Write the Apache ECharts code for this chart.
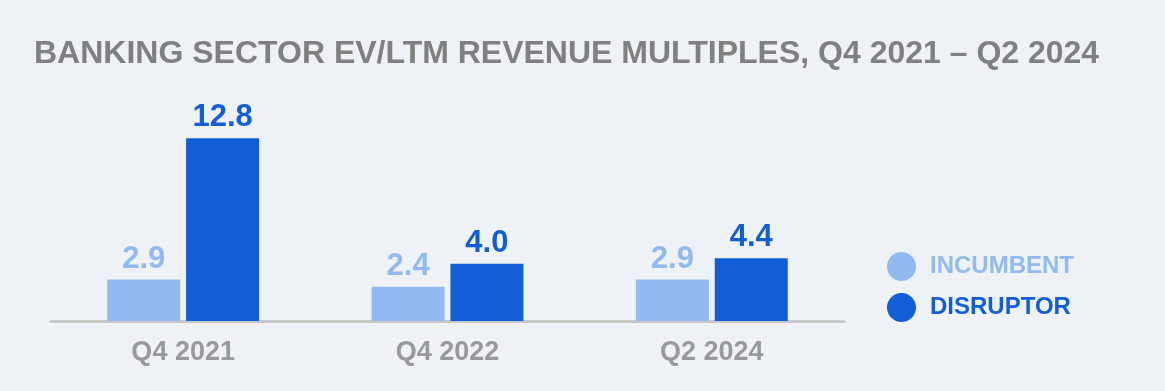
<!DOCTYPE html>
<html>
<head>
<meta charset="utf-8">
<script src="https://cdn.jsdelivr.net/npm/echarts@6/dist/echarts.min.js"></script>
<style>
html,body{margin:0;padding:0;background:#eef2f6;}
#chart{width:1165px;height:391px;}
</style>
</head>
<body>
<div id="chart"></div>
<script>
const titleText = 'BANKING SECTOR EV/LTM REVENUE MULTIPLES, Q4 2021 \u2013 Q2 2024';
const categories = ['Q4 2021', 'Q4 2022', 'Q2 2024'];
const seriesNames = ['INCUMBENT', 'DISRUPTOR'];
const incumbent = [2.9, 2.4, 2.9];
const disruptor = [12.8, 4.0, 4.4];

const FONT = '"Liberation Sans", Arial, Helvetica, sans-serif';
const lightBlue = '#92b9f0';
const darkBlue = '#125ed9';

const chart = echarts.init(document.getElementById('chart'), null, {renderer: 'canvas'});
chart.setOption({
  backgroundColor: '#eef2f6',
  animation: false,
  title: {
    text: titleText,
    left: 29,
    top: 33,
    textStyle: {fontFamily: FONT, fontSize: 32, fontWeight: 'bold', color: '#808080'}
  },
  legend: {
    orient: 'vertical',
    left: 882,
    top: 247,
    itemWidth: 29,
    itemHeight: 29,
    itemGap: 12,
    icon: 'circle',
    data: [
      {name: seriesNames[0], textStyle: {color: lightBlue}},
      {name: seriesNames[1], textStyle: {color: darkBlue}}
    ],
    textStyle: {fontFamily: FONT, fontSize: 24, fontWeight: 'bold', padding: [0, 0, 0, 9]}
  },
  grid: {left: 51, right: 321, top: 121, bottom: 70},
  xAxis: {
    type: 'category',
    data: categories,
    axisLine: {lineStyle: {color: '#c8c8c8', width: 3}},
    axisTick: {show: false},
    axisLabel: {fontFamily: FONT, fontSize: 27, fontWeight: 'bold', color: '#999999', margin: 18}
  },
  yAxis: {
    type: 'value',
    min: 0,
    max: 14,
    show: false,
    splitLine: {show: false}
  },
  series: [
    {
      name: seriesNames[0],
      type: 'bar',
      data: incumbent,
      barWidth: 73,
      barGap: '8%',
      itemStyle: {color: lightBlue},
      label: {
        show: true, position: 'top', distance: 5,
        formatter: p => p.value.toFixed(1),
        fontFamily: FONT, fontSize: 31, fontWeight: 'bold', color: lightBlue
      }
    },
    {
      name: seriesNames[1],
      type: 'bar',
      data: disruptor,
      barWidth: 73,
      barGap: '8%',
      itemStyle: {color: darkBlue},
      label: {
        show: true, position: 'top', distance: 5,
        formatter: p => p.value.toFixed(1),
        fontFamily: FONT, fontSize: 31, fontWeight: 'bold', color: darkBlue
      }
    }
  ]
});
</script>
</body>
</html>
